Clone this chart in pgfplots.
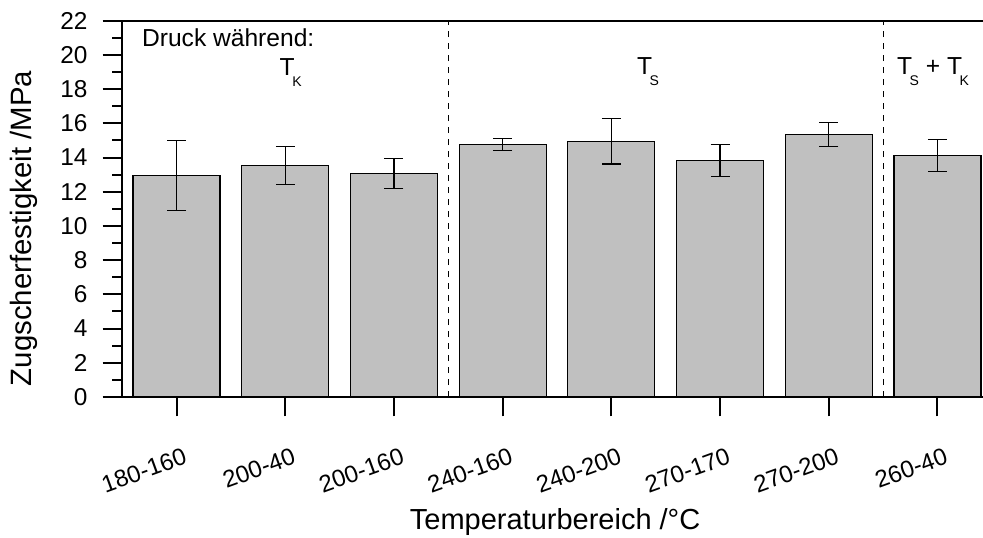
\documentclass[border=0pt]{standalone}
\usepackage{pgfplots}
\pgfplotsset{compat=1.18}
\usepackage{pgfplotstable}
\usepackage{fontspec}
\setmainfont{Liberation Sans}
\pgfplotstableread{
x y e
0 12.95 2.05
1 13.53 1.11
2 13.08 0.87
3 14.76 0.37
4 14.94 1.32
5 13.81 0.94
6 15.35 0.69
7 14.11 0.94
}\datatable
\newcommand{\sub}[1]{\kern-1.2pt\raisebox{-5.3pt}{\fontsize{7}{8}\selectfont #1}}
\begin{document}
\begin{tikzpicture}
\begin{axis}[
  scale only axis,
  width=430.5pt, height=188.15pt,
  xmin=-0.502, xmax=7.419,
  ymin=0, ymax=22,
  separate axis lines,
  axis x line*=box,
  axis y line*=left,
  axis line style={-, line width=1pt, black},
  tick align=outside,
  xtick pos=left, ytick pos=left,
  major tick length=9.7pt,
  minor tick length=4.8pt,
  every tick/.style={black, line width=1pt},
  xtick={0,...,7},
  xticklabels={180-160,200-40,200-160,240-160,240-200,270-170,270-200,260-40},
  ytick={0,2,...,22},
  minor y tick num=1,
  /pgf/number format/assume math mode=true,
  yticklabel style={font=\fontsize{12.2}{14}\selectfont, xshift=-4pt},
  xticklabel style={font=\fontsize{12}{14}\selectfont, rotate=20, anchor=north east, xshift=1pt, yshift=-12pt},
  xlabel={Temperaturbereich /°C},
  ylabel={Zugscherfestigkeit /MPa},
  xlabel style={font=\fontsize{14.5}{16}\selectfont, at={(axis description cs:0.503,0)}, anchor=base, yshift=-66pt},
  ylabel style={font=\fontsize{14.7}{16}\selectfont, at={(axis description cs:-0.1138,0.448)}, anchor=center, rotate=0},
  clip=false,
]
\addplot[ybar, bar width=0.8, fill={rgb,255:red,192;green,192;blue,192}, draw=black, line width=0.6pt,
  error bars/.cd, y dir=both, y explicit,
  error bar style={line width=0.6pt, black},
  error mark options={rotate=90, mark size=4.75pt, line width=0.6pt, black}]
  table[x=x, y=y, y error=e] {\datatable};
\addplot[black, line width=0.5pt, dash pattern=on 3pt off 3pt] coordinates {(2.5,0) (2.5,22)};
\addplot[black, line width=0.5pt, dash pattern=on 3pt off 3pt] coordinates {(6.5,0) (6.5,22)};
\node[anchor=base west, inner sep=0pt, font=\fontsize{12.3}{14}\selectfont] at (axis cs:-0.321,20.48) {Druck während:};
\node[anchor=base west, inner sep=0pt, font=\fontsize{12.3}{14}\selectfont] at (axis cs:0.945,18.77) {T\sub{K}};
\node[anchor=base west, inner sep=0pt, font=\fontsize{12.3}{14}\selectfont] at (axis cs:4.233,18.83) {T\sub{S}};
\node[anchor=base west, inner sep=0pt, font=\fontsize{12.3}{14}\selectfont] at (axis cs:6.625,18.83) {T\sub{S} + T\sub{K}};
\end{axis}
\pgfresetboundingbox
\path (-61pt,-70pt) rectangle (430.5pt,198.5pt);
\end{tikzpicture}
\end{document}
